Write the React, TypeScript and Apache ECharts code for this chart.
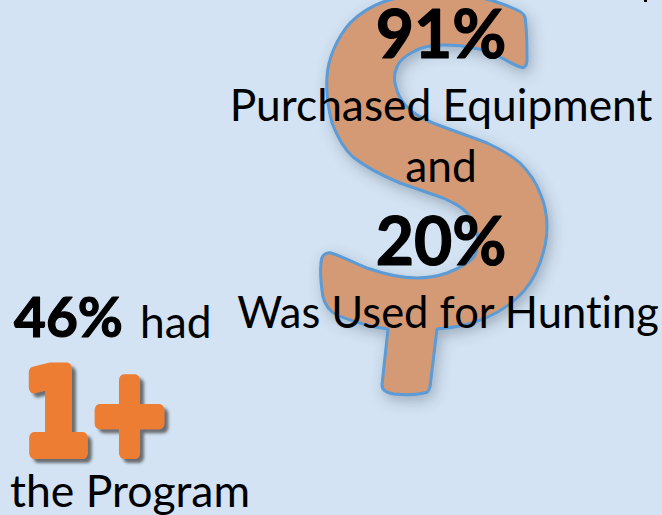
import React, { useEffect, useRef } from "react";
import * as echarts from "echarts";

const percentages = ["91%", "20%", "46%"];
const captions = ["Purchased Equipment", "and", "Was Used for Hunting", "had", "the Program"];
const badge = "1+";

const dollarPath =
  "M525 17 C527 30 527 50 527 60 C527 66 524 69 520 67 C512 64 506 60 500 57 C490 52 482 49 473 48 C462 45 452 45 443 45 C432 45 421 47 413 52 C405 56 399 61 397 67 C394 73 394 78 395 83 C397 93 401 101 407 107 C414 114 423 119 433 123 C451 130 469 136 487 143 C500 149 511 155 520 163 C529 172 536 182 540 193 C545 204 547 216 547 227 C547 240 544 252 540 263 C535 277 527 289 517 298 C505 309 490 317 475 322 C463 326 450 328 437 329 L430 387 C429 391 427 393 424 393 C416 395 404 395 394 394 C387 393 382 390 382 385 L388 329 C381 328 374 327 367 325 C356 322 346 319 337 315 C329 311 325 305 323 297 C321 285 320 273 321 263 C321 256 325 252 331 253 C343 257 355 263 367 268 C384 274 400 278 417 278 C428 278 438 276 447 273 C455 270 461 267 467 263 C473 259 477 254 477 248 C478 241 478 236 477 233 C475 225 472 219 467 213 C461 206 452 202 443 198 C429 193 414 188 400 183 C383 176 367 168 353 157 C343 148 337 136 332 123 C328 108 326 92 327 77 C328 58 337 38 350 23 C360 13 372 6 383 2 C392 -1 400 -3 410 -4 L470 -4 C486 -2 502 3 517 10 C521 12 524 14 525 17 Z";

export default function App() {
  const ref = useRef<HTMLDivElement>(null);

  useEffect(() => {
    const chart = echarts.init(ref.current!, null, { renderer: "svg" });
    echarts.graphic.registerShape("dollar", echarts.graphic.extendPath(dollarPath, {}));
    const font = "Lato, Carlito, sans-serif";
    const label = (text: string, x: number, baseline: number, size: number, bold = false, align = "center") => ({
      type: "text",
      x,
      y: baseline - (bold ? 0.89 : 0.86) * size,
      z: 10,
      style: {
        text,
        fontFamily: font,
        fontSize: size,
        fontWeight: bold ? "bold" : "normal",
        fill: "#000000",
        stroke: bold ? "#000000" : undefined,
        lineWidth: bold ? 1.2 : 0,
        align,
        verticalAlign: "top",
      },
    });
    chart.setOption({
      animation: false,
      backgroundColor: "#D3E3F3",
      graphic: [
        {
          type: "dollar",
          x: 0,
          y: 0,
          z: 1,
          style: {
            fill: "#D39A74",
            stroke: "#5B9BD5",
            lineWidth: 3,
            shadowBlur: 14,
            shadowColor: "rgba(60,70,90,0.35)",
            shadowOffsetX: 3,
            shadowOffsetY: 5,
          },
        },
        { type: "rect", z: 10, shape: { x: 644, y: 0, width: 3, height: 2 }, style: { fill: "#000000" } },
        label(percentages[0], 441, 58, 66, true),
        label(captions[0], 441, 120, 44.3),
        label(captions[1], 441, 181, 44.3),
        label(percentages[1], 441, 265, 66, true),
        label(captions[2], 448, 326, 43.5),
        label(percentages[2], 14, 337, 55, true, "left"),
        label(captions[3], 140, 337, 44.3, false, "left"),
        label(captions[4], 10, 505, 44.5, false, "left"),
        {
          type: "text",
          x: 23,
          y: 356,
          scaleX: 0.83,
          z: 10,
          style: {
            text: badge,
            fontFamily: "DejaVu Sans",
            fontWeight: "bold",
            fontSize: 115,
            fill: "#ED7D31",
            stroke: "#ED7D31",
            lineWidth: 12,
            align: "left",
            verticalAlign: "top",
            textShadowBlur: 3,
            textShadowColor: "rgba(70,70,70,0.75)",
            textShadowOffsetX: 4,
            textShadowOffsetY: 4,
          },
        },
      ],
    });
    return () => chart.dispose();
  }, []);

  return (
    <div
      ref={ref}
      style={{
        position: "absolute",
        left: 0,
        top: 0,
        width: 662,
        height: 515,
        fontVariantLigatures: "none",
        strokeLinejoin: "round",
      }}
    />
  );
}
